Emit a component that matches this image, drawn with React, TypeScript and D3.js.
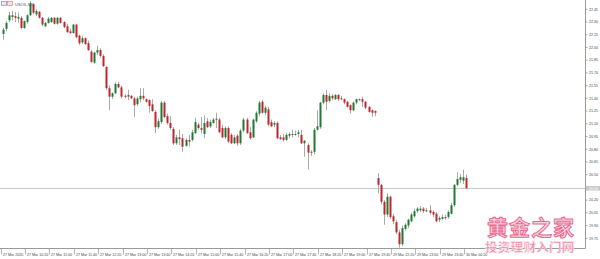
import React from "react";
import * as d3 from "d3";

const OPEN = [22.16,22.22,22.32,22.36,22.37,22.34,22.35,22.23,22.30,22.38,
22.51,22.39,22.42,22.35,22.25,22.29,22.30,22.35,22.28,22.35,
22.30,22.25,22.19,22.17,22.27,22.14,22.06,22.11,22.05,21.95,
21.82,21.94,21.97,21.90,21.77,21.52,21.42,21.46,21.57,21.53,
21.43,21.42,21.43,21.40,21.33,21.39,21.43,21.39,21.38,21.33,
21.24,21.06,21.12,21.35,21.19,21.11,21.04,20.87,20.94,20.93,
20.84,20.91,20.91,20.99,21.09,21.05,20.98,21.13,21.07,21.11,
21.15,21.15,21.05,20.94,21.05,20.97,20.87,20.96,20.87,21.02,
21.15,21.00,20.94,21.13,21.22,21.36,21.23,21.27,21.12,21.09,
21.11,20.94,20.94,20.91,20.96,20.98,20.97,20.98,20.97,20.87,
20.85,20.76,20.77,21.03,21.06,21.35,21.44,21.37,21.43,21.39,
21.44,21.40,21.39,21.36,21.32,21.26,21.35,21.39,21.39,21.36,
21.30,21.26,21.25,
20.46,20.38,20.18,20.03,20.24,20.01,19.94,19.82,19.68,19.86,
19.90,19.95,20.01,20.07,20.08,20.10,20.07,20.08,20.06,20.04,
19.97,19.98,20.00,20.00,20.04,20.14,20.38,20.44,20.43,20.46];

const HIGH = [22.23,22.31,22.42,22.43,22.42,22.41,22.37,22.32,22.39,22.55,
22.52,22.45,22.43,22.36,22.30,22.36,22.36,22.36,22.36,22.36,
22.31,22.28,22.22,22.28,22.28,22.15,22.14,22.12,22.08,21.97,
21.95,22.02,21.99,21.92,21.78,21.55,21.47,21.59,21.59,21.55,
21.45,21.50,21.44,21.42,21.42,21.52,21.52,21.40,21.39,21.39,
21.26,21.16,21.37,21.37,21.22,21.19,21.06,20.97,21.03,20.98,
20.93,20.97,21.03,21.17,21.11,21.18,21.20,21.17,21.15,21.17,
21.23,21.17,21.09,21.07,21.07,20.99,20.97,20.98,21.04,21.17,
21.17,21.06,21.16,21.25,21.37,21.38,21.31,21.30,21.15,21.13,
21.13,20.97,20.98,20.99,21.00,21.03,21.02,21.03,21.03,20.91,
20.87,20.79,21.05,21.26,21.36,21.46,21.50,21.46,21.45,21.45,
21.45,21.43,21.40,21.37,21.33,21.36,21.40,21.40,21.42,21.37,
21.31,21.27,21.26,
20.52,20.39,20.20,20.28,20.25,20.04,19.97,19.85,19.90,19.93,
19.98,20.05,20.10,20.12,20.13,20.12,20.11,20.14,20.08,20.06,
20.01,20.03,20.03,20.08,20.17,20.39,20.53,20.51,20.56,20.50];

const LOW = [22.09,22.19,22.30,22.32,22.30,22.29,22.22,22.22,22.28,22.37,
22.39,22.37,22.34,22.25,22.24,22.28,22.29,22.27,22.27,22.28,
22.23,22.17,22.16,22.16,22.11,22.03,22.04,22.03,21.96,21.82,
21.81,21.91,21.88,21.77,21.50,21.26,21.39,21.45,21.52,21.40,
21.40,21.38,21.39,21.18,21.31,21.35,21.38,21.35,21.23,21.24,
20.99,21.04,21.10,21.17,21.09,21.03,20.85,20.85,20.85,20.77,
20.83,20.83,20.89,20.98,21.03,20.99,20.93,21.05,21.05,21.10,
21.05,20.99,20.93,20.92,20.87,20.86,20.86,20.84,20.85,21.00,
20.98,20.91,20.93,21.11,21.19,21.22,21.20,21.07,21.06,21.06,
20.92,20.91,20.89,20.90,20.93,20.94,20.96,20.94,20.86,20.71,
20.56,20.72,20.74,21.02,21.04,21.33,21.26,21.35,21.38,21.38,
21.37,21.38,21.33,21.29,21.22,21.25,21.33,21.37,21.30,21.27,
21.23,21.18,21.19,
20.28,20.15,19.91,20.00,19.98,19.92,19.80,19.64,19.66,19.84,
19.87,19.94,19.99,20.05,20.06,20.05,20.06,20.03,20.00,19.94,
19.94,19.97,19.97,19.98,20.03,20.12,20.36,20.40,20.39,20.33];

const CLOSE = [22.21,22.29,22.38,22.38,22.35,22.36,22.23,22.31,22.38,22.52,
22.41,22.43,22.35,22.27,22.29,22.34,22.35,22.28,22.35,22.29,
22.24,22.18,22.17,22.27,22.12,22.05,22.11,22.04,21.97,21.83,
21.94,21.97,21.90,21.78,21.52,21.42,21.46,21.57,21.53,21.42,
21.42,21.44,21.40,21.32,21.40,21.43,21.40,21.36,21.31,21.25,
21.06,21.13,21.35,21.18,21.11,21.05,20.87,20.94,20.92,20.83,
20.91,20.89,21.00,21.12,21.05,21.03,21.11,21.06,21.12,21.15,
21.16,21.00,20.94,21.05,20.89,20.87,20.94,20.87,21.02,21.15,
20.99,20.93,21.15,21.23,21.35,21.23,21.29,21.09,21.07,21.11,
20.93,20.92,20.91,20.97,20.98,20.97,20.98,21.00,20.87,20.90,
20.76,20.77,21.03,21.07,21.35,21.44,21.36,21.43,21.40,21.44,
21.39,21.39,21.35,21.30,21.26,21.35,21.39,21.38,21.36,21.29,
21.24,21.23,21.23,
20.38,20.18,20.03,20.24,20.00,19.95,19.82,19.68,19.87,19.91,
19.97,20.03,20.07,20.10,20.10,20.07,20.08,20.05,20.03,19.95,
19.99,20.00,19.99,20.06,20.14,20.38,20.45,20.47,20.47,20.34];

const PRICE_TICKS = [22.45,22.30,22.15,22.00,21.85,21.70,21.55,21.40,21.25,21.10,20.95,20.80,20.65,20.50,20.20,20.05,19.90,19.75];
const CURRENT_PRICE = 20.34;
const TIME_LABEL_INDEX = [0,8,16,24,32,40,48,56,64,72,80,88,96,104,112,120,128,136,144,152];
const TIME_LABELS = ["27 Mar 2020","27 Mar 10:20","27 Mar 11:00","27 Mar 11:40","27 Mar 12:20","27 Mar 13:00","27 Mar 13:40","27 Mar 14:20","27 Mar 15:00","27 Mar 15:40","27 Mar 16:20","27 Mar 17:00","27 Mar 17:40","27 Mar 18:20","27 Mar 19:00","27 Mar 19:40","29 Mar 22:20","29 Mar 23:00","29 Mar 23:40","30 Mar 00:20"];
const SYMBOL = "USOIL,M5";

const W = 600, H = 259;
const AXIS_X = 585.5;
const AXIS_Y = 248.5;
const FONT = "'Liberation Sans', Arial, sans-serif";

export default function App() {
  const x = d3.scaleLinear().domain([0, 152]).range([2.5, 466.1]);
  const y = d3.scaleLinear().domain([19.75, 22.45]).range([238.3, 9.3]);
  const GREEN = "#1f7a33";
  const RED = "#c0262c";
  const WICK = "#a9a9a9";

  const candles = OPEN.map((o, i) => {
    const c = CLOSE[i];
    const cx = Math.round(x(i));
    const top = y(Math.max(o, c));
    const bot = y(Math.min(o, c));
    const up = c >= o;
    return (
      <g key={i}>
        <rect x={cx} y={y(HIGH[i])} width={1} height={Math.max(1, y(LOW[i]) - y(HIGH[i]))} fill={WICK} />
        <rect x={cx - 0.5} y={top} width={2} height={Math.max(1, bot - top)} fill={up ? GREEN : RED} />
      </g>
    );
  });

  return (
    <div style={{ position: "absolute", left: 0, top: 0, width: W, height: H, background: "#fff" }}>
      <svg width={W} height={H} style={{ display: "block" }}>
        <rect x={0} y={0} width={W} height={H} fill="#ffffff" />
        <line x1={0} x2={AXIS_X} y1={Math.round(y(CURRENT_PRICE)) + 0.5} y2={Math.round(y(CURRENT_PRICE)) + 0.5} stroke="#c8c8c8" strokeWidth={1} />
        {candles}
        <rect x={1.5} y={1.5} width={5} height={4} fill="#e8e8f8" stroke="#8a8ad0" strokeWidth={0.7} />
        <rect x={7.5} y={1.5} width={5} height={4} fill="#f8e0e0" stroke="#d08a8a" strokeWidth={0.7} />
        <text x={15} y={5.5} fontSize={4} fontFamily={FONT} fill="#555">{SYMBOL}</text>
        <line x1={AXIS_X} x2={AXIS_X} y1={0} y2={AXIS_Y} stroke="#9a9a9a" strokeWidth={1} />
        <line x1={0} x2={AXIS_X} y1={AXIS_Y} y2={AXIS_Y} stroke="#9a9a9a" strokeWidth={1} />
        {PRICE_TICKS.map((p) => (
          <g key={p}>
            <line x1={AXIS_X} x2={AXIS_X + 2} y1={y(p)} y2={y(p)} stroke="#777" strokeWidth={0.6} />
            <text x={589} y={y(p) + 1.3} fontSize={3.6} fontFamily={FONT} fill="#444">{p.toFixed(2)}</text>
          </g>
        ))}
        <rect x={586} y={y(CURRENT_PRICE) - 2.3} width={14} height={4.6} fill="#c8c8c8" />
        <text x={589} y={y(CURRENT_PRICE) + 1.3} fontSize={3.6} fontFamily={FONT} fill="#fff">{CURRENT_PRICE.toFixed(2)}</text>
        {TIME_LABEL_INDEX.map((idx, k) => {
          const lx = Math.round(x(idx)) - 1.5;
          return (
            <g key={idx}>
              <line x1={lx} x2={lx} y1={AXIS_Y} y2={AXIS_Y + 6} stroke="#888" strokeWidth={0.6} />
              <text x={lx + 1.5} y={255.5} fontSize={3.6} fontFamily={FONT} fill="#444">{TIME_LABELS[k]}</text>
            </g>
          );
        })}
        <text x={487} y={234.5} fontSize={21} fontWeight={700} fontFamily="'Noto Sans CJK SC', sans-serif" fill="#f9d3de" stroke="#e76a90" strokeWidth={1} letterSpacing={1}>黄金之家</text>
        <text x={485} y={251.5} fontSize={12.5} fontWeight={700} fontFamily="'Noto Sans CJK SC', sans-serif" fill="#ef7c9b" stroke="#fde3ea" strokeWidth={0.6} letterSpacing={0.3}>投资理财入门网</text>
      </svg>
    </div>
  );
}
